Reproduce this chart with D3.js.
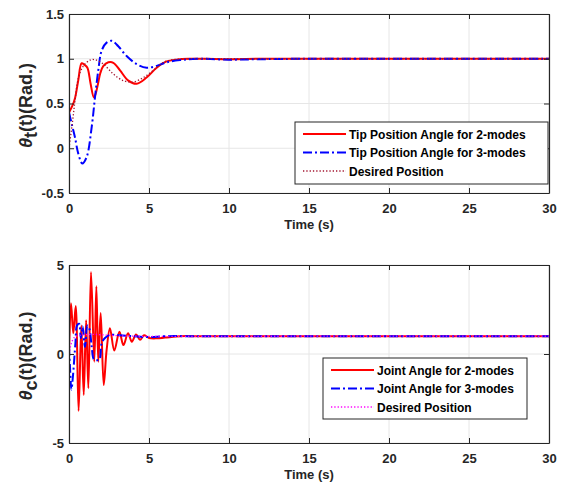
<!DOCTYPE html>
<html>
<head>
<meta charset="utf-8">
<script src="https://cdn.jsdelivr.net/npm/d3@7"></script>
<style>
  body { margin: 0; background: #fff; }
  text { font-family: "Liberation Sans", Arial, sans-serif; font-weight: bold; }
</style>
</head>
<body>
<div id="chart"></div>
<script>
// ---------- data ----------
var tipTwoModes = [[0,0.4],[0.2,0.47],[0.375,0.56],[0.58,0.76],[0.79,0.95],[0.98,0.93],[1.15,0.9],[1.35,0.72],[1.55,0.57],[1.65,0.6],[1.8,0.71],[1.96,0.84],[2.15,0.92],[2.46,0.96],[2.77,0.955],[3.19,0.87],[3.71,0.755],[4.23,0.72],[4.85,0.79],[5.48,0.9],[6.1,0.97],[6.7,0.99],[7.5,1.0],[8.5,1.0],[10,0.995],[12,1.0],[15,1.0],[20,1.0],[25,1.0],[30,1.0]];
var tipThreeModes = [[0,0.4],[0.2,0.25],[0.375,0.12],[0.58,-0.06],[0.83,-0.17],[1.1,-0.1],[1.42,0.24],[1.625,0.57],[1.83,0.87],[2.04,1.09],[2.35,1.18],[2.67,1.2],[3.08,1.14],[3.6,1.03],[4.23,0.94],[4.85,0.9],[5.48,0.92],[6.1,0.96],[6.94,0.985],[8,1.0],[10,0.99],[12,0.995],[15,1.0],[20,1.0],[25,1.0],[30,1.0]];
var tipDesired = [[0,0],[0.23,0.31],[0.375,0.53],[0.58,0.78],[0.9,0.92],[1.31,0.985],[1.6,0.99],[2.15,0.94],[2.77,0.83],[3.4,0.755],[4.0,0.74],[4.65,0.79],[5.27,0.87],[5.9,0.96],[6.5,0.99],[7.5,1.0],[10,1.0],[15,1.0],[20,1.0],[25,1.0],[30,1.0]];

var jointTwoModes = [[0,0],[0.125,2.85],[0.27,1.16],[0.42,2.7],[0.6,-3.2],[0.77,1.6],[0.92,-2.3],[1.07,1.9],[1.21,-1.93],[1.375,4.6],[1.58,-0.43],[1.71,3.8],[1.83,-0.43],[1.98,2.3],[2.17,-1.74],[2.35,0.22],[2.56,1.44],[2.83,0.19],[3.15,1.25],[3.4,0.5],[3.69,1.16],[3.93,0.69],[4.19,1.1],[4.44,0.8],[4.69,1.05],[5.0,0.9],[5.5,0.88],[6.0,0.92],[7,1.0],[8,1.0],[15,1.0],[20,1.0],[25,1.0],[30,1.0]];
var jointThreeModes = [[0,0.4],[0.06,-0.7],[0.15,-2.0],[0.25,-1.2],[0.4,0.6],[0.5,1.6],[0.63,1.7],[0.74,0.9],[0.85,1.55],[1.0,0.4],[1.15,1.6],[1.28,1.4],[1.42,0.4],[1.55,-0.3],[1.7,-0.35],[1.9,-0.3],[2.04,0.6],[2.25,0.9],[2.56,1.07],[3.2,1.05],[4,1.0],[5,0.95],[6,1.0],[8,1.0],[15,1.0],[20,1.0],[25,1.0],[30,1.0]];
var jointDesired = [[0,0],[0.15,0.6],[0.35,0.95],[0.7,1.05],[1.5,1.1],[2.5,1.05],[4,1.0],[15,1.0],[30,1.0]];

var xTicks = [0, 5, 10, 15, 20, 25, 30];
var tipYTicks = [-0.5, 0, 0.5, 1, 1.5];
var jointYTicks = [-5, 0, 5];

var tipLegend = ["Tip Position Angle for 2-modes", "Tip Position Angle for 3-modes", "Desired Position"];
var jointLegend = ["Joint Angle for 2-modes", "Joint Angle for 3-modes", "Desired Position"];

// ---------- set-up ----------
var W = 561, H = 491;
var axisCol = "#262626";
var svg = d3.select("#chart").append("svg").attr("width", W).attr("height", H);

var styles = [
  {color: "#ff0000", width: 2, dash: null},
  {color: "#0000ff", width: 2, dash: "9,3,2,3"},
  {color: "#a2142f", width: 1.3, dash: "1.3,2"}
];

// matlab style tick labels: plain hyphen, no trailing zeros
function fmt(d) { return String(d); }

function drawPanel(cfg) {
  var x = d3.scaleLinear().domain([0, 30]).range([69, 549]);
  var y = d3.scaleLinear().domain(cfg.yDomain).range([cfg.bottom, cfg.top]);
  var g = svg.append("g");

  // grid
  g.selectAll(".gx").data(xTicks).enter().append("line")
    .attr("x1", d => x(d)).attr("x2", d => x(d))
    .attr("y1", cfg.top).attr("y2", cfg.bottom)
    .attr("stroke", "#e6e6e6").attr("stroke-width", 1);
  g.selectAll(".gy").data(cfg.yTicks).enter().append("line")
    .attr("x1", 69).attr("x2", 549)
    .attr("y1", d => y(d)).attr("y2", d => y(d))
    .attr("stroke", "#e6e6e6").attr("stroke-width", 1);

  // series
  var clipId = "clip" + cfg.id;
  g.append("clipPath").attr("id", clipId).append("rect")
    .attr("x", 69).attr("y", cfg.top).attr("width", 480).attr("height", cfg.bottom - cfg.top);
  var line = d3.line().x(d => x(d[0])).y(d => y(d[1])).curve(d3.curveCatmullRom.alpha(0.5));
  cfg.series.forEach(function(s, i) {
    var st = cfg.styles[i];
    g.append("path").datum(s)
      .attr("clip-path", "url(#" + clipId + ")")
      .attr("d", line)
      .attr("fill", "none")
      .attr("stroke", st.color)
      .attr("stroke-width", st.width)
      .attr("stroke-dasharray", st.dash);
  });

  // axes (ticks pointing inward, box on)
  var xb = g.append("g").attr("transform", "translate(0," + cfg.bottom + ")")
    .call(d3.axisBottom(x).tickValues(xTicks).tickFormat(fmt).tickSizeInner(-5).tickSizeOuter(0).tickPadding(11));
  var xt = g.append("g").attr("transform", "translate(0," + cfg.top + ")")
    .call(d3.axisTop(x).tickValues(xTicks).tickSizeInner(-5).tickSizeOuter(0).tickFormat(""));
  var yl = g.append("g").attr("transform", "translate(69,0)")
    .call(d3.axisLeft(y).tickValues(cfg.yTicks).tickFormat(fmt).tickSizeInner(-5).tickSizeOuter(0).tickPadding(5));
  var yr = g.append("g").attr("transform", "translate(549,0)")
    .call(d3.axisRight(y).tickValues(cfg.yTicks).tickSizeInner(-5).tickSizeOuter(0).tickFormat(""));
  [xb, xt, yl, yr].forEach(function(a) {
    a.select(".domain").attr("stroke", axisCol).attr("stroke-width", 1.2);
    a.selectAll(".tick line").attr("stroke", axisCol);
    a.selectAll(".tick text").attr("fill", axisCol)
      .style("font-family", "'Liberation Sans', Arial, sans-serif")
      .style("font-weight", "bold").style("font-size", "13px");
  });

  // axis titles
  g.append("text").attr("x", 309).attr("y", cfg.bottom + 36)
    .attr("text-anchor", "middle").attr("fill", axisCol).style("font-size", "13px").text("Time (s)");
  var yt = g.append("text")
    .attr("transform", "translate(32," + ((cfg.top + cfg.bottom) / 2 + 2) + ") rotate(-90)")
    .attr("text-anchor", "middle").attr("fill", axisCol).style("font-size", "18px");
  yt.append("tspan").style("font-style", "italic").text("\u03b8");
  yt.append("tspan").attr("dy", 5).text(cfg.sub);
  yt.append("tspan").attr("dy", -5).text("(t)(Rad.)");

  // legend
  var L = cfg.legend;
  var lg = g.append("g");
  lg.append("rect").attr("x", L.x).attr("y", L.y).attr("width", L.w).attr("height", L.h)
    .attr("fill", "#fff").attr("stroke", axisCol).attr("stroke-width", 1);
  L.labels.forEach(function(lab, i) {
    var st = cfg.styles[i];
    var yy = L.y + 12 + i * 18.5;
    lg.append("line").attr("x1", L.x + 8).attr("x2", L.x + 51)
      .attr("y1", yy).attr("y2", yy)
      .attr("stroke", st.color).attr("stroke-width", st.width).attr("stroke-dasharray", st.dash);
    lg.append("text").attr("x", L.x + 54).attr("y", yy + 4.5)
      .attr("fill", "#000").style("font-size", "12px").text(lab);
  });
}

drawPanel({
  id: 1, top: 14, bottom: 193, yDomain: [-0.5, 1.5], yTicks: tipYTicks, sub: "t",
  series: [tipTwoModes, tipThreeModes, tipDesired], styles: styles,
  legend: {x: 295, y: 122, w: 253, h: 62, labels: tipLegend}
});

drawPanel({
  id: 2, top: 265, bottom: 443, yDomain: [-5, 5], yTicks: jointYTicks, sub: "c",
  series: [jointTwoModes, jointThreeModes, jointDesired],
  styles: [styles[0], styles[1], {color: "#ff00ff", width: 1.3, dash: "1.3,2"}],
  legend: {x: 323, y: 358, w: 204, h: 61, labels: jointLegend}
});
</script>
</body>
</html>
